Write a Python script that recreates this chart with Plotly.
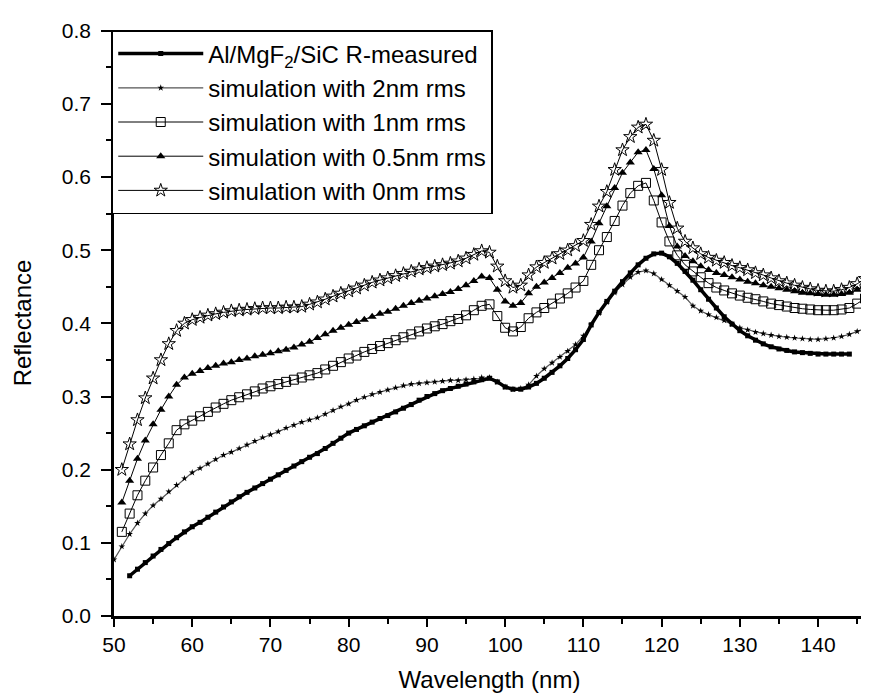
"""Reflectance of Al/MgF2/SiC: measured vs. roughness simulations."""
import plotly.graph_objects as go

WL = list(range(50, 147))  # 50 ... 146 nm

R_MEASURED = [
    None, None, 0.055, 0.064, 0.073, 0.082, 0.091, 0.099, 0.107, 0.115,
    0.122, 0.128, 0.135, 0.142, 0.149, 0.156, 0.163, 0.169, 0.175, 0.181,
    0.187, 0.193, 0.199, 0.205, 0.211, 0.217, 0.222, 0.229, 0.236, 0.243,
    0.250, 0.255, 0.260, 0.265, 0.270, 0.274, 0.279, 0.284, 0.289, 0.295,
    0.300, 0.304, 0.308, 0.311, 0.314, 0.317, 0.320, 0.323, 0.325, 0.320,
    0.313, 0.310, 0.310, 0.313, 0.318, 0.325, 0.333, 0.342, 0.352, 0.364,
    0.378, 0.398, 0.415, 0.430, 0.444, 0.457, 0.469, 0.480, 0.489, 0.495,
    0.496, 0.491, 0.482, 0.471, 0.459, 0.446, 0.433, 0.421, 0.409, 0.399,
    0.390, 0.383, 0.377, 0.372, 0.368, 0.365, 0.363, 0.361, 0.360, 0.359,
    0.358, 0.358, 0.358, 0.358, 0.358, None, None,
]

SIM_2NM = [
    0.077, 0.095, 0.112, 0.127, 0.140, 0.151, 0.160, 0.170, 0.179, 0.188,
    0.196, 0.202, 0.208, 0.214, 0.220, 0.224, 0.229, 0.234, 0.239, 0.244,
    0.248, 0.252, 0.257, 0.261, 0.265, 0.268, 0.271, 0.276, 0.281, 0.286,
    0.290, 0.295, 0.299, 0.303, 0.306, 0.309, 0.312, 0.315, 0.317, 0.318,
    0.319, 0.320, 0.321, 0.322, 0.322, 0.323, 0.324, 0.326, 0.326, 0.320,
    0.313, 0.310, 0.311, 0.316, 0.328, 0.338, 0.346, 0.354, 0.362, 0.371,
    0.383, 0.398, 0.414, 0.429, 0.442, 0.453, 0.463, 0.470, 0.472, 0.468,
    0.460, 0.452, 0.444, 0.436, 0.424, 0.417, 0.412, 0.408, 0.404, 0.399,
    0.394, 0.391, 0.388, 0.386, 0.384, 0.382, 0.381, 0.380, 0.379, 0.378,
    0.378, 0.379, 0.380, 0.382, 0.385, 0.389, 0.393,
]

SIM_1NM = [
    None, 0.115, 0.140, 0.165, 0.185, 0.203, 0.220, 0.236, 0.254, 0.262,
    0.267, 0.273, 0.279, 0.285, 0.290, 0.295, 0.299, 0.303, 0.307, 0.311,
    0.314, 0.317, 0.320, 0.323, 0.326, 0.329, 0.332, 0.337, 0.342, 0.347,
    0.352, 0.356, 0.361, 0.365, 0.369, 0.373, 0.377, 0.381, 0.385, 0.389,
    0.393, 0.396, 0.399, 0.403, 0.406, 0.411, 0.418, 0.424, 0.426, 0.410,
    0.394, 0.389, 0.395, 0.407, 0.415, 0.421, 0.427, 0.434, 0.441, 0.449,
    0.458, 0.480, 0.500, 0.518, 0.540, 0.561, 0.578, 0.588, 0.592, 0.568,
    0.538, 0.512, 0.493, 0.480, 0.471, 0.463, 0.455, 0.449, 0.445, 0.441,
    0.438, 0.435, 0.433, 0.430, 0.427, 0.425, 0.423, 0.421, 0.420, 0.419,
    0.418, 0.418, 0.418, 0.419, 0.421, 0.427, 0.434,
]

SIM_05NM = [
    None, 0.155, 0.185, 0.215, 0.240, 0.262, 0.282, 0.300, 0.316, 0.326,
    0.331, 0.335, 0.339, 0.342, 0.345, 0.347, 0.350, 0.352, 0.355, 0.357,
    0.359, 0.362, 0.364, 0.367, 0.371, 0.375, 0.380, 0.385, 0.390, 0.394,
    0.398, 0.402, 0.405, 0.409, 0.413, 0.416, 0.420, 0.424, 0.428, 0.431,
    0.434, 0.437, 0.440, 0.443, 0.447, 0.452, 0.458, 0.464, 0.462, 0.446,
    0.430, 0.424, 0.428, 0.441, 0.450, 0.456, 0.462, 0.469, 0.476, 0.482,
    0.490, 0.512, 0.537, 0.560, 0.585, 0.606, 0.620, 0.634, 0.637, 0.611,
    0.575, 0.533, 0.505, 0.492, 0.485, 0.478, 0.473, 0.469, 0.466, 0.463,
    0.460, 0.457, 0.455, 0.452, 0.450, 0.448, 0.446, 0.444, 0.442, 0.441,
    0.440, 0.439, 0.439, 0.440, 0.442, 0.446, 0.452,
]

SIM_0NM = [
    None, 0.200, 0.235, 0.268, 0.298, 0.325, 0.350, 0.372, 0.390, 0.400,
    0.405, 0.408, 0.411, 0.413, 0.415, 0.417, 0.418, 0.419, 0.420, 0.421,
    0.421, 0.421, 0.422, 0.422, 0.423, 0.426, 0.429, 0.433, 0.437, 0.441,
    0.444, 0.448, 0.452, 0.456, 0.459, 0.462, 0.465, 0.468, 0.471, 0.474,
    0.476, 0.478, 0.480, 0.482, 0.485, 0.489, 0.494, 0.499, 0.497, 0.478,
    0.458, 0.449, 0.452, 0.466, 0.477, 0.483, 0.489, 0.495, 0.500, 0.506,
    0.513, 0.535, 0.560, 0.580, 0.610, 0.637, 0.655, 0.668, 0.672, 0.650,
    0.610, 0.565, 0.530, 0.512, 0.503, 0.495, 0.490, 0.486, 0.483, 0.479,
    0.476, 0.473, 0.469, 0.466, 0.462, 0.458, 0.455, 0.452, 0.449, 0.447,
    0.445, 0.444, 0.444, 0.446, 0.449, 0.454, 0.461,
]

X_TICKS = [50, 60, 70, 80, 90, 100, 110, 120, 130, 140]
Y_TICKS = [0.0, 0.1, 0.2, 0.3, 0.4, 0.5, 0.6, 0.7, 0.8]

FONT = 'Liberation Sans, Arial, sans-serif'

fig = go.Figure()

# simulations drawn first, measured curve on top
fig.add_trace(go.Scatter(
    x=WL, y=SIM_0NM, name='simulation with 0nm rms', mode='lines+markers',
    line={'color': 'black', 'width': 1},
    marker={'symbol': 'star-open', 'size': 10, 'color': 'black', 'line': {'width': 1}},
    cliponaxis=False, legendrank=5,
))
fig.add_trace(go.Scatter(
    x=WL, y=SIM_05NM, name='simulation with 0.5nm rms', mode='lines+markers',
    line={'color': 'black', 'width': 1},
    marker={'symbol': 'triangle-up', 'size': 8, 'color': 'black'},
    cliponaxis=False, legendrank=4,
))
fig.add_trace(go.Scatter(
    x=WL, y=SIM_1NM, name='simulation with 1nm rms', mode='lines+markers',
    line={'color': 'black', 'width': 1},
    marker={'symbol': 'square-open', 'size': 9, 'color': 'black', 'line': {'width': 1}},
    cliponaxis=False, legendrank=3,
))
fig.add_trace(go.Scatter(
    x=WL, y=SIM_2NM, name='simulation with 2nm rms', mode='lines+markers',
    line={'color': '#555555', 'width': 1.2},
    marker={'symbol': 'star', 'size': 5, 'color': 'black'},
    cliponaxis=False, legendrank=2,
))
fig.add_trace(go.Scatter(
    x=WL, y=R_MEASURED, name='Al/MgF<sub>2</sub>/SiC R-measured', mode='lines+markers',
    line={'color': 'black', 'width': 3.5},
    marker={'symbol': 'square', 'size': 5, 'color': 'black'},
    cliponaxis=False, legendrank=1,
))

axis_common = dict(
    showline=True, linecolor='black', showgrid=False, zeroline=False,
    ticks='outside', tickwidth=1.5, tickcolor='black', ticklabeloverflow='allow',
    tickfont={'size': 21, 'color': 'black', 'family': FONT},
)

# page body has an 8px margin, so the plot area is shifted by that amount
fig.update_layout(
    width=869, height=699,
    margin={'l': 106, 'r': 12, 't': 11, 'b': 91},
    paper_bgcolor='white', plot_bgcolor='white',
    font={'family': FONT, 'color': 'black'},
    xaxis=dict(
        axis_common, range=[50, 146], tickvals=X_TICKS, linewidth=3, ticklen=8,
        minor={'ticks': 'outside', 'ticklen': 5, 'dtick': 5, 'tick0': 50, 'tickcolor': 'black'},
        title={'text': 'Wavelength (nm)', 'font': {'size': 24}, 'standoff': 16},
    ),
    yaxis=dict(
        axis_common, range=[0, 0.801], tickvals=Y_TICKS, tickformat='.1f', linewidth=2.5,
        ticklen=10, ticklabelstandoff=6,
        minor={'ticks': 'outside', 'ticklen': 5, 'dtick': 0.05, 'tick0': 0, 'tickcolor': 'black'},
        title={'text': 'Reflectance', 'font': {'size': 24}, 'standoff': 24},
    ),
    legend={
        'x': -0.003, 'y': 1, 'xanchor': 'left', 'yanchor': 'top',
        'bgcolor': 'white', 'bordercolor': 'black', 'borderwidth': 1.5,
        'font': {'size': 24}, 'itemwidth': 85, 'tracegroupgap': 0,
    },
)

fig.write_html("out.html")
